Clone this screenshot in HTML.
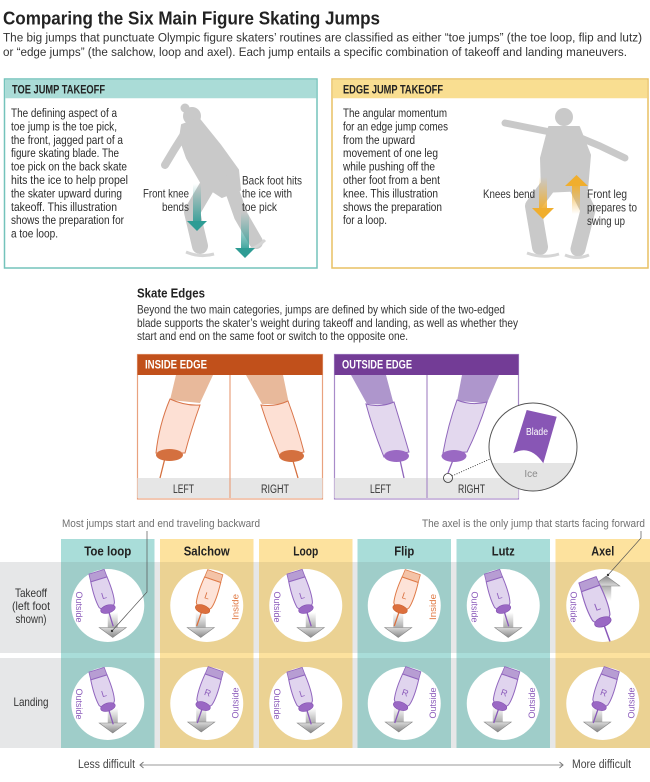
<!DOCTYPE html>
<html><head><meta charset="utf-8"><style>html,body{margin:0;padding:0;background:#fff}svg{display:block}</style></head>
<body>
<svg width="650" height="782" viewBox="0 0 650 782" xmlns="http://www.w3.org/2000/svg" xmlns:xlink="http://www.w3.org/1999/xlink" font-family="'Liberation Sans', sans-serif">
<defs>
<linearGradient id="tealFade" x1="0" y1="0" x2="0" y2="1"><stop offset="0" stop-color="#2e9c94" stop-opacity="0"/><stop offset="1" stop-color="#2e9c94" stop-opacity="0.9"/></linearGradient>
<linearGradient id="yelDown" x1="0" y1="0" x2="0" y2="1"><stop offset="0" stop-color="#f0ae2e" stop-opacity="0"/><stop offset="1" stop-color="#f0ae2e" stop-opacity="0.95"/></linearGradient>
<linearGradient id="yelUp" x1="0" y1="0" x2="0" y2="1"><stop offset="0" stop-color="#f0ae2e" stop-opacity="0.95"/><stop offset="1" stop-color="#f0ae2e" stop-opacity="0"/></linearGradient>
<linearGradient id="gShaft" x1="0" y1="0" x2="0" y2="1"><stop offset="0" stop-color="#ffffff"/><stop offset="1" stop-color="#a8a8a8"/></linearGradient>
<linearGradient id="gHead" x1="0" y1="0" x2="0" y2="1"><stop offset="0" stop-color="#dadada"/><stop offset="1" stop-color="#888888"/></linearGradient>
<g id="garrow">
 <rect x="-5" y="-25" width="10" height="16" fill="url(#gShaft)"/>
 <polygon points="-13.5,-10 13.5,-10 0,0" fill="url(#gHead)" stroke="#858585" stroke-width="0.6"/>
</g>
<g id="bootP">
 <line x1="0" y1="2" x2="0" y2="17" stroke="#8a58ba" stroke-width="1.3"/>
 <path d="M-8,-40 L8,-40 L8.5,-32 L-8.5,-32 Z" fill="#b79dd3" stroke="#9166be" stroke-width="0.8"/>
 <path d="M-8.5,-32 L8.5,-32 C9.5,-22 10,-12 8,-5 L5,-1 L-5,-1 L-8,-5 C-9.5,-12 -9.5,-22 -8.5,-32 Z" fill="#e0d4ee" stroke="#9166be" stroke-width="1"/>
 <ellipse cx="0" cy="-1" rx="7.5" ry="4" fill="#9a68c4" stroke="#8250b0" stroke-width="0.6"/>
</g>
<g id="bootO">
 <line x1="0" y1="2" x2="0" y2="17" stroke="#dc6f3d" stroke-width="1.3"/>
 <path d="M-8,-40 L8,-40 L8.5,-32 L-8.5,-32 Z" fill="#f4c3a7" stroke="#de7d4c" stroke-width="0.8"/>
 <path d="M-8.5,-32 L8.5,-32 C9.5,-22 10,-12 8,-5 L5,-1 L-5,-1 L-8,-5 C-9.5,-12 -9.5,-22 -8.5,-32 Z" fill="#fde3d8" stroke="#df7a47" stroke-width="1"/>
 <ellipse cx="0" cy="-1" rx="7.5" ry="4" fill="#dc6f3d" stroke="#c85e2e" stroke-width="0.6"/>
</g>
<clipPath id="magClip"><circle cx="533" cy="447" r="44"/></clipPath>
</defs>

<rect width="650" height="782" fill="#fff"/>

<!-- Header -->
<text x="3" y="24.5" font-size="18.5" font-weight="bold" fill="#222" textLength="377" lengthAdjust="spacingAndGlyphs">Comparing the Six Main Figure Skating Jumps</text>
<text x="3" y="41.5" font-size="12.3" fill="#333" textLength="639" lengthAdjust="spacingAndGlyphs">The big jumps that punctuate Olympic figure skaters’ routines are classified as either “toe jumps” (the toe loop, flip and lutz)</text>
<text x="3" y="56" font-size="12.3" fill="#333" textLength="624" lengthAdjust="spacingAndGlyphs">or “edge jumps” (the salchow, loop and axel). Each jump entails a specific combination of takeoff and landing maneuvers.</text>

<!-- Toe jump box -->
<rect x="4.5" y="79" width="312.5" height="189" fill="#fff" stroke="#74c3bb" stroke-width="1.5"/>
<rect x="5.25" y="79.75" width="311" height="18.5" fill="#aadcd7"/>
<text x="12" y="93.3" font-size="11.5" font-weight="bold" fill="#222" textLength="93" lengthAdjust="spacingAndGlyphs">TOE JUMP TAKEOFF</text>
<g font-size="12.3" fill="#2b2b2b">
<text x="11" y="117" textLength="106" lengthAdjust="spacingAndGlyphs">The defining aspect of a</text>
<text x="11" y="130.4" textLength="106" lengthAdjust="spacingAndGlyphs">toe jump is the toe pick,</text>
<text x="11" y="143.8" textLength="112" lengthAdjust="spacingAndGlyphs">the front, jagged part of a</text>
<text x="11" y="157.2" textLength="108" lengthAdjust="spacingAndGlyphs">figure skating blade. The</text>
<text x="11" y="170.6" textLength="116" lengthAdjust="spacingAndGlyphs">toe pick on the back skate</text>
<text x="11" y="184" textLength="117" lengthAdjust="spacingAndGlyphs">hits the ice to help propel</text>
<text x="11" y="197.4" textLength="111" lengthAdjust="spacingAndGlyphs">the skater upward during</text>
<text x="11" y="210.8" textLength="106" lengthAdjust="spacingAndGlyphs">takeoff. This illustration</text>
<text x="11" y="224.2" textLength="113" lengthAdjust="spacingAndGlyphs">shows the preparation for</text>
<text x="11" y="237.6" textLength="47" lengthAdjust="spacingAndGlyphs">a toe loop.</text>
</g>
<!-- skater 1 -->
<g fill="#c9c9c9" stroke="#c9c9c9" stroke-linecap="round" stroke-linejoin="round">
<circle cx="192" cy="116" r="9" stroke="none"/>
<circle cx="185" cy="108" r="4.5" stroke="none"/>
<polygon points="182,125 199,119 220,145 238,170 240,190 222,197 202,184 187,158 180,138" stroke-width="2"/>
<polyline points="186,131 174,150 165,165" fill="none" stroke-width="8"/>
<polyline points="212,178 192,212 200,246" fill="none" stroke-width="16"/>
<polyline points="229,182 241,216 256,242" fill="none" stroke-width="14"/>
</g>
<path d="M186,252 Q200,258 214,254" stroke="#d5d5d5" stroke-width="3" fill="none"/>
<path d="M243,251 Q256,249 265,240" stroke="#d5d5d5" stroke-width="3" fill="none"/>
<!-- teal arrows -->
<rect x="193" y="184" width="8" height="38" fill="url(#tealFade)"/>
<polygon points="187,221 207,221 197,231" fill="#2e9c94"/>
<rect x="241" y="212" width="8" height="37" fill="url(#tealFade)"/>
<polygon points="235,248 255,248 245,258" fill="#2e9c94"/>
<g font-size="11.8" fill="#333">
<text x="143" y="197.7" textLength="46" lengthAdjust="spacingAndGlyphs">Front knee</text>
<text x="162" y="211" textLength="27" lengthAdjust="spacingAndGlyphs">bends</text>
<text x="242" y="184.3" textLength="60" lengthAdjust="spacingAndGlyphs">Back foot hits</text>
<text x="242" y="197.7" textLength="50" lengthAdjust="spacingAndGlyphs">the ice with</text>
<text x="242" y="211" textLength="35" lengthAdjust="spacingAndGlyphs">toe pick</text>
</g>

<!-- Edge jump box -->
<rect x="332" y="79" width="316" height="189" fill="#fff" stroke="#e8c163" stroke-width="1.5"/>
<rect x="332.75" y="79.75" width="314.5" height="18.5" fill="#f9de91"/>
<text x="343" y="93.3" font-size="11.5" font-weight="bold" fill="#222" textLength="100" lengthAdjust="spacingAndGlyphs">EDGE JUMP TAKEOFF</text>
<g font-size="12.3" fill="#2b2b2b">
<text x="343" y="117" textLength="104" lengthAdjust="spacingAndGlyphs">The angular momentum</text>
<text x="343" y="130.4" textLength="105" lengthAdjust="spacingAndGlyphs">for an edge jump comes</text>
<text x="343" y="143.8" textLength="72" lengthAdjust="spacingAndGlyphs">from the upward</text>
<text x="343" y="157.2" textLength="95" lengthAdjust="spacingAndGlyphs">movement of one leg</text>
<text x="343" y="170.6" textLength="92" lengthAdjust="spacingAndGlyphs">while pushing off the</text>
<text x="343" y="184" textLength="97" lengthAdjust="spacingAndGlyphs">other foot from a bent</text>
<text x="343" y="197.4" textLength="95" lengthAdjust="spacingAndGlyphs">knee. This illustration</text>
<text x="343" y="210.8" textLength="99" lengthAdjust="spacingAndGlyphs">shows the preparation</text>
<text x="343" y="224.2" textLength="44" lengthAdjust="spacingAndGlyphs">for a loop.</text>
</g>
<!-- skater 2 -->
<g fill="#c9c9c9" stroke="#c9c9c9" stroke-linecap="round" stroke-linejoin="round">
<circle cx="564" cy="117" r="9" stroke="none"/>
<polygon points="549,127 579,127 590,155 587,190 542,192 541,158" stroke-width="2"/>
<polyline points="555,133 530,128 505,123" fill="none" stroke-width="7"/>
<polyline points="576,136 600,146 625,158" fill="none" stroke-width="7"/>
<polyline points="551,182 533,206 540,247" fill="none" stroke-width="16"/>
<polyline points="574,182 588,210 578,249" fill="none" stroke-width="15"/>
</g>
<path d="M527,253 Q543,259 559,254" stroke="#d5d5d5" stroke-width="3" fill="none"/>
<path d="M565,255 Q577,260 589,255" stroke="#d5d5d5" stroke-width="3" fill="none"/>
<rect x="539" y="177" width="8" height="32" fill="url(#yelDown)"/>
<polygon points="532,208 554,208 543,219" fill="#f0ae2e"/>
<rect x="572" y="185" width="8" height="29" fill="url(#yelUp)"/>
<polygon points="565,186 588,186 576.5,175" fill="#f0ae2e"/>
<g font-size="11.8" fill="#333">
<text x="483" y="198" textLength="52" lengthAdjust="spacingAndGlyphs">Knees bend</text>
<text x="587" y="198" textLength="40" lengthAdjust="spacingAndGlyphs">Front leg</text>
<text x="587" y="211.7" textLength="50" lengthAdjust="spacingAndGlyphs">prepares to</text>
<text x="587" y="225" textLength="38" lengthAdjust="spacingAndGlyphs">swing up</text>
</g>

<!-- Skate Edges -->
<text x="137" y="297.5" font-size="13" font-weight="bold" fill="#222" textLength="68" lengthAdjust="spacingAndGlyphs">Skate Edges</text>
<g font-size="12" fill="#333">
<text x="137" y="313.5" textLength="368" lengthAdjust="spacingAndGlyphs">Beyond the two main categories, jumps are defined by which side of the two-edged</text>
<text x="137" y="326.8" textLength="381" lengthAdjust="spacingAndGlyphs">blade supports the skater’s weight during takeoff and landing, as well as whether they</text>
<text x="137" y="340.1" textLength="271" lengthAdjust="spacingAndGlyphs">start and end on the same foot or switch to the opposite one.</text>
</g>

<!-- Inside edge box -->
<rect x="137.5" y="354.5" width="185" height="144.5" fill="#fff" stroke="#e9a27f" stroke-width="1.2"/>
<rect x="137.5" y="478" width="185" height="20" fill="#e6e6e6"/>
<line x1="230" y1="375" x2="230" y2="498" stroke="#e9a27f" stroke-width="1.2"/>
<polygon points="176,375 213,375 200,403 170,400" fill="#e8b99b"/>
<line x1="165" y1="458" x2="160" y2="478" stroke="#d4703f" stroke-width="1.3"/>
<path d="M170,399 Q185,406 200,405 Q191,430 185,453 L156,453 Q159,425 170,399 Z" fill="#fde0d4" stroke="#d9754a" stroke-width="1"/>
<ellipse cx="169.5" cy="455" rx="13.5" ry="6" fill="#d4703f"/>
<polygon points="246,375 283,375 289,404 262,404" fill="#e8b99b"/>
<line x1="293" y1="461" x2="298" y2="478" stroke="#d4703f" stroke-width="1.3"/>
<path d="M261,405 Q275,407 288,401 Q297,425 304,452 L280,457 Q269,430 261,405 Z" fill="#fde0d4" stroke="#d9754a" stroke-width="1"/>
<ellipse cx="291.5" cy="456" rx="12.5" ry="6" fill="#d4703f"/>
<rect x="137.5" y="354.5" width="185" height="20.5" fill="#c1501b"/>
<text x="145" y="368.5" font-size="11.8" font-weight="bold" fill="#fff" textLength="62" lengthAdjust="spacingAndGlyphs">INSIDE EDGE</text>
<g font-size="11.5" fill="#333">
<text x="173" y="493" textLength="21" lengthAdjust="spacingAndGlyphs">LEFT</text>
<text x="261" y="493" textLength="28" lengthAdjust="spacingAndGlyphs">RIGHT</text>
</g>

<!-- Outside edge box -->
<rect x="334.5" y="354.5" width="184" height="144.5" fill="#fff" stroke="#a98bc9" stroke-width="1.2"/>
<rect x="334.5" y="478" width="184" height="20" fill="#e6e6e6"/>
<line x1="427" y1="375" x2="427" y2="498" stroke="#a98bc9" stroke-width="1.2"/>
<polygon points="351,375 386,375 394,405 367,404" fill="#ae96cc"/>
<line x1="400" y1="460" x2="404" y2="478" stroke="#8f66bb" stroke-width="1.3"/>
<path d="M366,404 Q380,408 394,402 Q402,428 409,452 L384,457 Q373,430 366,404 Z" fill="#e3d8ee" stroke="#8f66bb" stroke-width="1"/>
<ellipse cx="396.5" cy="456" rx="12.5" ry="6" fill="#9a69c3"/>
<polygon points="462,375 499,375 487,403 457,401" fill="#ae96cc"/>
<line x1="453" y1="460" x2="448" y2="473" stroke="#8f66bb" stroke-width="1.3"/>
<path d="M457,400 Q471,406 487,402 Q478,430 467,452 L443,453 Q448,425 457,400 Z" fill="#e3d8ee" stroke="#8f66bb" stroke-width="1"/>
<ellipse cx="454" cy="456" rx="12.5" ry="6" fill="#9a69c3"/>
<rect x="334.5" y="354.5" width="184" height="20.5" fill="#733c96"/>
<text x="342" y="368.5" font-size="11.8" font-weight="bold" fill="#fff" textLength="70" lengthAdjust="spacingAndGlyphs">OUTSIDE EDGE</text>
<g font-size="11.5" fill="#333">
<text x="370" y="493" textLength="21" lengthAdjust="spacingAndGlyphs">LEFT</text>
<text x="458" y="493" textLength="27" lengthAdjust="spacingAndGlyphs">RIGHT</text>
</g>
<!-- magnifier -->
<circle cx="448" cy="478" r="4.5" fill="none" stroke="#333" stroke-width="0.8"/>
<line x1="452" y1="476" x2="490" y2="459" stroke="#333" stroke-width="0.9" stroke-dasharray="1,1.5"/>
<circle cx="533" cy="447" r="44" fill="#fff"/>
<g clip-path="url(#magClip)">
<rect x="488" y="463" width="90" height="30" fill="#e4e4e4"/>
<path d="M526.7,410 L556.7,416.7 L543.3,463.3 Q530,444 513.3,453.3 Z" fill="#8856b5"/>
</g>
<circle cx="533" cy="447" r="44" fill="none" stroke="#555" stroke-width="1"/>
<text x="537" y="435" font-size="10" fill="#fff" text-anchor="middle" textLength="22" lengthAdjust="spacingAndGlyphs">Blade</text>
<text x="531" y="477" font-size="10" fill="#8a8a8a" text-anchor="middle">Ice</text>

<!-- Table -->
<rect x="0" y="562" width="650" height="91" fill="#e6e7e8"/>
<rect x="0" y="658" width="650" height="90" fill="#e6e7e8"/>
<g>
<rect x="61" y="539" width="93.5" height="209" fill="#a9ddd9"/><rect x="61" y="562" width="93.5" height="91" fill="#9fcdc9"/><rect x="61" y="658" width="93.5" height="90" fill="#9fcdc9"/>
<rect x="160" y="539" width="93.5" height="209" fill="#fde29e"/><rect x="160" y="562" width="93.5" height="91" fill="#ebd293"/><rect x="160" y="658" width="93.5" height="90" fill="#ebd293"/>
<rect x="259" y="539" width="93.5" height="209" fill="#fde29e"/><rect x="259" y="562" width="93.5" height="91" fill="#ebd293"/><rect x="259" y="658" width="93.5" height="90" fill="#ebd293"/>
<rect x="357.5" y="539" width="93.5" height="209" fill="#a9ddd9"/><rect x="357.5" y="562" width="93.5" height="91" fill="#9fcdc9"/><rect x="357.5" y="658" width="93.5" height="90" fill="#9fcdc9"/>
<rect x="456.5" y="539" width="93.5" height="209" fill="#a9ddd9"/><rect x="456.5" y="562" width="93.5" height="91" fill="#9fcdc9"/><rect x="456.5" y="658" width="93.5" height="90" fill="#9fcdc9"/>
<rect x="555.5" y="539" width="94.5" height="209" fill="#fde29e"/><rect x="555.5" y="562" width="94.5" height="91" fill="#ebd293"/><rect x="555.5" y="658" width="94.5" height="90" fill="#ebd293"/>
</g>
<g font-size="13" font-weight="bold" fill="#222" text-anchor="middle">
<text x="107.75" y="555.5" textLength="47" lengthAdjust="spacingAndGlyphs">Toe loop</text>
<text x="206.75" y="555.5" textLength="46" lengthAdjust="spacingAndGlyphs">Salchow</text>
<text x="305.75" y="555.5" textLength="25" lengthAdjust="spacingAndGlyphs">Loop</text>
<text x="404.25" y="555.5" textLength="20" lengthAdjust="spacingAndGlyphs">Flip</text>
<text x="503.25" y="555.5" textLength="23" lengthAdjust="spacingAndGlyphs">Lutz</text>
<text x="602.75" y="555.5" textLength="23" lengthAdjust="spacingAndGlyphs">Axel</text>
</g>
<g font-size="11.8" fill="#333" text-anchor="middle">
<text x="31" y="597" textLength="32" lengthAdjust="spacingAndGlyphs">Takeoff</text>
<text x="31" y="610" textLength="38" lengthAdjust="spacingAndGlyphs">(left foot</text>
<text x="31" y="623" textLength="31" lengthAdjust="spacingAndGlyphs">shown)</text>
<text x="31" y="706" textLength="35" lengthAdjust="spacingAndGlyphs">Landing</text>
</g>
<g fill="#fff">
<circle cx="107.75" cy="605.5" r="36.5"/><circle cx="206.75" cy="605.5" r="36.5"/><circle cx="305.75" cy="605.5" r="36.5"/>
<circle cx="404.25" cy="605.5" r="36.5"/><circle cx="503.25" cy="605.5" r="36.5"/><circle cx="602.75" cy="605.5" r="36.5"/>
<circle cx="107.75" cy="703.5" r="36.5"/><circle cx="206.75" cy="703.5" r="36.5"/><circle cx="305.75" cy="703.5" r="36.5"/>
<circle cx="404.25" cy="703.5" r="36.5"/><circle cx="503.25" cy="703.5" r="36.5"/><circle cx="602.75" cy="703.5" r="36.5"/>
</g>

<!-- Takeoff row contents -->
<use xlink:href="#garrow" transform="translate(112.75,637.5)"/>
<g transform="translate(108.25,610) rotate(-17)"><use xlink:href="#bootP"/><text x="0" y="-12" font-size="9" fill="#8c5cbb" text-anchor="middle">L</text></g>
<text transform="translate(78.75,607) rotate(90)" x="0" y="3" font-size="9.5" fill="#8c5cbb" text-anchor="middle" textLength="31" lengthAdjust="spacingAndGlyphs">Outside</text>
<use xlink:href="#garrow" transform="translate(200.75,637.5)"/>
<g transform="translate(202.25,610) rotate(19)"><use xlink:href="#bootO"/><text x="0" y="-12" font-size="9" fill="#d9703f" text-anchor="middle">L</text></g>
<text transform="translate(235.25,607) rotate(-90)" x="0" y="3" font-size="9.5" fill="#e07a45" text-anchor="middle" textLength="26" lengthAdjust="spacingAndGlyphs">Inside</text>
<use xlink:href="#garrow" transform="translate(310.75,637.5)"/>
<g transform="translate(306.25,610) rotate(-17)"><use xlink:href="#bootP"/><text x="0" y="-12" font-size="9" fill="#8c5cbb" text-anchor="middle">L</text></g>
<text transform="translate(276.75,607) rotate(90)" x="0" y="3" font-size="9.5" fill="#8c5cbb" text-anchor="middle" textLength="31" lengthAdjust="spacingAndGlyphs">Outside</text>
<use xlink:href="#garrow" transform="translate(398.25,637.5)"/>
<g transform="translate(399.75,610) rotate(19)"><use xlink:href="#bootO"/><text x="0" y="-12" font-size="9" fill="#d9703f" text-anchor="middle">L</text></g>
<text transform="translate(432.75,607) rotate(-90)" x="0" y="3" font-size="9.5" fill="#e07a45" text-anchor="middle" textLength="26" lengthAdjust="spacingAndGlyphs">Inside</text>
<use xlink:href="#garrow" transform="translate(508.25,637.5)"/>
<g transform="translate(503.75,610) rotate(-17)"><use xlink:href="#bootP"/><text x="0" y="-12" font-size="9" fill="#8c5cbb" text-anchor="middle">L</text></g>
<text transform="translate(474.25,607) rotate(90)" x="0" y="3" font-size="9.5" fill="#8c5cbb" text-anchor="middle" textLength="31" lengthAdjust="spacingAndGlyphs">Outside</text>
<use xlink:href="#garrow" transform="translate(606.25,576) rotate(180)"/>
<g transform="translate(603.25,623) rotate(-20) scale(1.15)"><use xlink:href="#bootP"/><text x="0" y="-12" font-size="9" fill="#8c5cbb" text-anchor="middle">L</text></g>
<text transform="translate(573.25,607) rotate(90)" x="0" y="3" font-size="9.5" fill="#8c5cbb" text-anchor="middle" textLength="31" lengthAdjust="spacingAndGlyphs">Outside</text>

<!-- Landing row contents -->
<use xlink:href="#garrow" transform="translate(112.75,733)"/>
<g transform="translate(108.25,708) rotate(-17)"><use xlink:href="#bootP"/><text x="0" y="-12" font-size="9" fill="#8c5cbb" text-anchor="middle">L</text></g>
<text transform="translate(78.75,704) rotate(90)" x="0" y="3" font-size="9.5" fill="#8c5cbb" text-anchor="middle" textLength="31" lengthAdjust="spacingAndGlyphs">Outside</text>
<use xlink:href="#garrow" transform="translate(201.25,732)"/>
<g transform="translate(202.75,707) rotate(19)"><use xlink:href="#bootP"/><text x="0" y="-12" font-size="9" fill="#8c5cbb" text-anchor="middle">R</text></g>
<text transform="translate(235.25,703) rotate(-90)" x="0" y="3" font-size="9.5" fill="#8c5cbb" text-anchor="middle" textLength="31" lengthAdjust="spacingAndGlyphs">Outside</text>
<use xlink:href="#garrow" transform="translate(310.75,733)"/>
<g transform="translate(306.25,708) rotate(-17)"><use xlink:href="#bootP"/><text x="0" y="-12" font-size="9" fill="#8c5cbb" text-anchor="middle">L</text></g>
<text transform="translate(276.75,704) rotate(90)" x="0" y="3" font-size="9.5" fill="#8c5cbb" text-anchor="middle" textLength="31" lengthAdjust="spacingAndGlyphs">Outside</text>
<use xlink:href="#garrow" transform="translate(398.75,732)"/>
<g transform="translate(400.25,707) rotate(19)"><use xlink:href="#bootP"/><text x="0" y="-12" font-size="9" fill="#8c5cbb" text-anchor="middle">R</text></g>
<text transform="translate(432.75,703) rotate(-90)" x="0" y="3" font-size="9.5" fill="#8c5cbb" text-anchor="middle" textLength="31" lengthAdjust="spacingAndGlyphs">Outside</text>
<use xlink:href="#garrow" transform="translate(497.75,732)"/>
<g transform="translate(499.25,707) rotate(19)"><use xlink:href="#bootP"/><text x="0" y="-12" font-size="9" fill="#8c5cbb" text-anchor="middle">R</text></g>
<text transform="translate(531.75,703) rotate(-90)" x="0" y="3" font-size="9.5" fill="#8c5cbb" text-anchor="middle" textLength="31" lengthAdjust="spacingAndGlyphs">Outside</text>
<use xlink:href="#garrow" transform="translate(597.25,732)"/>
<g transform="translate(598.75,707) rotate(19)"><use xlink:href="#bootP"/><text x="0" y="-12" font-size="9" fill="#8c5cbb" text-anchor="middle">R</text></g>
<text transform="translate(631.25,703) rotate(-90)" x="0" y="3" font-size="9.5" fill="#8c5cbb" text-anchor="middle" textLength="31" lengthAdjust="spacingAndGlyphs">Outside</text>

<!-- annotations -->
<text x="62" y="527" font-size="11" fill="#707070" textLength="198" lengthAdjust="spacingAndGlyphs">Most jumps start and end traveling backward</text>
<polyline points="147,531 147,592 112,631" fill="none" stroke="#555" stroke-width="0.7"/>
<circle cx="112" cy="631" r="1.2" fill="#333"/>
<text x="422" y="527" font-size="11" fill="#707070" textLength="223" lengthAdjust="spacingAndGlyphs">The axel is the only jump that starts facing forward</text>
<polyline points="641,531 641,538 608,575" fill="none" stroke="#555" stroke-width="0.7"/>
<circle cx="608" cy="575" r="1.2" fill="#333"/>

<!-- difficulty axis -->
<text x="78" y="768" font-size="11.5" fill="#444" textLength="57" lengthAdjust="spacingAndGlyphs">Less difficult</text>
<line x1="140" y1="765" x2="563" y2="765" stroke="#999" stroke-width="1"/>
<polyline points="143.5,762 140,765 143.5,768" fill="none" stroke="#777" stroke-width="1"/>
<polyline points="559.5,762 563,765 559.5,768" fill="none" stroke="#777" stroke-width="1"/>
<text x="572" y="768" font-size="11.5" fill="#444" textLength="59" lengthAdjust="spacingAndGlyphs">More difficult</text>
</svg>
</body></html>
